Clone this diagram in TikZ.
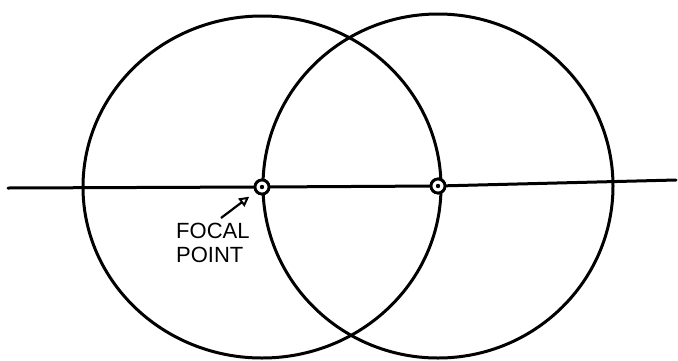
\documentclass[tikz,border=0pt]{standalone}
\usepackage{fontspec}
\setmainfont{Liberation Sans}
\usepackage{tikz}
\usetikzlibrary{positioning,arrows.meta}

\begin{document}
\begin{tikzpicture}[
  x=1pt, y=-1pt,
  ink/.style={line width=3pt, black, line cap=round},
  focus/.style={circle, draw, line width=2.8pt, minimum size=14pt, inner sep=0pt,
                fill=white, path picture={\fill[black] (path picture bounding box.center) circle (2.2pt);}},
  caption/.style={font=\fontsize{22}{24}\selectfont, align=left, inner sep=0pt},
  pointer/.style={-{Triangle[open,length=10pt,width=10pt,line width=2pt]}, line width=2.2pt},
]
\useasboundingbox (0,0) rectangle (678,360);

% axis ends and the two foci
\coordinate (west) at (8,188);
\coordinate (east) at (676,180);
\node[focus] (f1) at (262,187) {};
\node[focus] (f2) at (438,186) {};

% the two circles, each through the other focus
\draw[ink] (f1.center) ellipse [x radius=179, y radius=171];
\draw[ink] (f2.center) ellipse [x radius=175, y radius=172];

% axis
\draw[ink] (west) -- (f1) -- (f2) -- (east);
\node[focus] at (f1) {};
\node[focus] at (f2) {};

% label
\node[caption, anchor=north west] (lbl) at (176,223) {FOCAL\\POINT};
\coordinate (tail) at (221,218);
\draw[pointer, shorten >=16pt] (tail) -- (f1.center);
\end{tikzpicture}
\end{document}
